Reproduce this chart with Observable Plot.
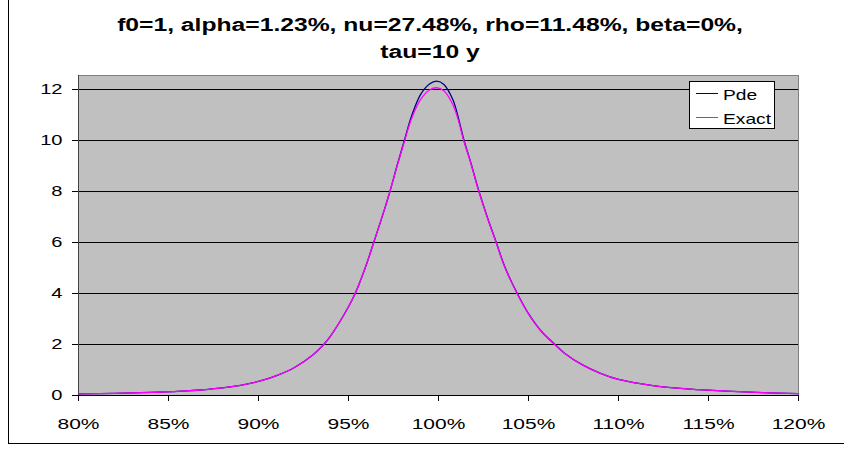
<!DOCTYPE html>
<html>
<head>
<meta charset="utf-8">
<script src="https://cdn.jsdelivr.net/npm/d3@7"></script>
<script src="https://cdn.jsdelivr.net/npm/@observablehq/plot@0.6"></script>
<style>
  html, body { margin: 0; padding: 0; background: #fff; }
  #wrap { position: relative; width: 844px; height: 450px; overflow: hidden; background: #fff; font-family: 'Liberation Sans', Arial, sans-serif; }
  #border { position: absolute; left: 8px; top: -5px; width: 900px; height: 448px; border-left: 1px solid #000; border-bottom: 1px solid #000; }
  #title { position: absolute; top: 12px; left: 0; width: 860px; text-align: center; font-weight: bold; font-size: 18px; line-height: 27px; transform: scaleX(1.37); transform-origin: 430px 0; white-space: nowrap; color: #000; }
  #chart { position: absolute; left: 0; top: 70px; }
  #legend { position: absolute; left: 689px; top: 81px; width: 86px; height: 48px; box-sizing: border-box; background: #fff; border: 1px solid #000; }
  .lg-line { position: absolute; left: 6px; width: 22px; height: 1px; }
  .lg-text { position: absolute; left: 33px; font-size: 15px; line-height: 15px; transform: scaleX(1.28); transform-origin: 0 0; white-space: nowrap; color: #000; }
</style>
</head>
<body>
<div id="wrap">
  <div id="border"></div>
  <div id="title"></div>
  <div id="chart"></div>
  <div id="legend"></div>
</div>
<script>
// ---- data ----
const titleLines = ["f0=1, alpha=1.23%, nu=27.48%, rho=11.48%, beta=0%,", "tau=10 y"];
const seriesNames = ["Pde", "Exact"];
const seriesColors = ["#000080", "#FF00FF"];
const xTicks = [80, 85, 90, 95, 100, 105, 110, 115, 120];
const yTicks = [0, 2, 4, 6, 8, 10, 12];

const strikePct = [80, 82, 84, 86, 88, 89, 90, 91, 92, 93, 93.6, 94, 95, 95.4, 96, 96.4, 97, 97.3, 97.7, 98.1, 98.5, 99, 99.5, 99.9, 100.3, 100.8, 101.1, 101.4, 101.8, 102.2, 102.7, 103.2, 103.7, 104.4, 105, 105.7, 106.5, 107, 108, 109, 110, 112, 114, 116, 118, 120];
const exactVals = [0.06, 0.08, 0.12, 0.18, 0.30, 0.40, 0.55, 0.78, 1.10, 1.58, 1.98, 2.33, 3.48, 4.05, 5.15, 6.00, 7.30, 8.00, 9.00, 9.95, 10.85, 11.60, 11.98, 12.07, 11.95, 11.40, 10.80, 10.00, 9.10, 8.10, 7.00, 6.00, 5.00, 3.95, 3.20, 2.52, 1.97, 1.66, 1.20, 0.87, 0.63, 0.38, 0.25, 0.17, 0.11, 0.07];
const pdeVals   = [0.06, 0.08, 0.12, 0.18, 0.30, 0.40, 0.55, 0.78, 1.10, 1.58, 1.98, 2.33, 3.48, 4.05, 5.15, 6.00, 7.30, 8.00, 9.02, 10.00, 10.95, 11.80, 12.22, 12.33, 12.20, 11.60, 10.90, 10.05, 9.12, 8.12, 7.02, 6.02, 5.02, 3.97, 3.21, 2.53, 1.98, 1.66, 1.20, 0.87, 0.63, 0.38, 0.25, 0.17, 0.11, 0.07];

const rows = strikePct.map((x, i) => ({x, pde: pdeVals[i], exact: exactVals[i]}));

// ---- title ----
document.getElementById("title").innerHTML = titleLines.map(t => `<div>${t}</div>`).join("");

// ---- chart ----
const chart = Plot.plot({
  width: 844,
  height: 380,
  marginLeft: 78,
  marginRight: 46,
  marginTop: 5,
  marginBottom: 55,
  x: {domain: [80, 120]},
  y: {domain: [0, 12.55]},
  style: {fontFamily: "'Liberation Sans', Arial, sans-serif", fontSize: "15px", color: "#000", background: "transparent", overflow: "visible"},
  marks: [
    Plot.frame({fill: "#C0C0C0", stroke: "#808080"}),
    Plot.ruleY(yTicks.filter(d => d > 0), {stroke: "#000", strokeWidth: 1}),
    Plot.ruleX([80], {stroke: "#444"}),
    Plot.ruleY([0], {stroke: "#000"}),
    Plot.axisY({ticks: yTicks, tickSize: 6, tickPadding: 10, label: null, stroke: "#000"}),
    Plot.axisX({ticks: xTicks, tickFormat: d => d + "%", tickSize: 6, tickPadding: 17, label: null, stroke: "#000"}),
    Plot.line(rows, {x: "x", y: "pde", stroke: seriesColors[0], strokeWidth: 1.3, curve: "catmull-rom"}),
    Plot.line(rows, {x: "x", y: "exact", stroke: seriesColors[1], strokeWidth: 1.3, curve: "catmull-rom"})
  ]
});
document.getElementById("chart").appendChild(chart);

// horizontally stretch tick labels like the reference
function stretch(sel, s) {
  chart.querySelectorAll(sel).forEach(t => {
    const tr = t.getAttribute("transform") || "";
    const x = parseFloat(t.getAttribute("x")) || 0;
    t.setAttribute("transform", `${tr} translate(${x},0) scale(${s},1) translate(${-x},0)`);
  });
}
stretch('g[aria-label="x-axis tick label"] text', 1.4);
stretch('g[aria-label="y-axis tick label"] text', 1.34);

// ---- legend ----
const legend = document.getElementById("legend");
seriesNames.forEach((name, i) => {
  const ln = document.createElement("div");
  ln.className = "lg-line";
  ln.style.top = (11 + i * 24) + "px";
  ln.style.background = seriesColors[i];
  legend.appendChild(ln);
  const tx = document.createElement("div");
  tx.className = "lg-text";
  tx.style.top = (5 + i * 24) + "px";
  tx.textContent = name;
  legend.appendChild(tx);
});
</script>
</body>
</html>
